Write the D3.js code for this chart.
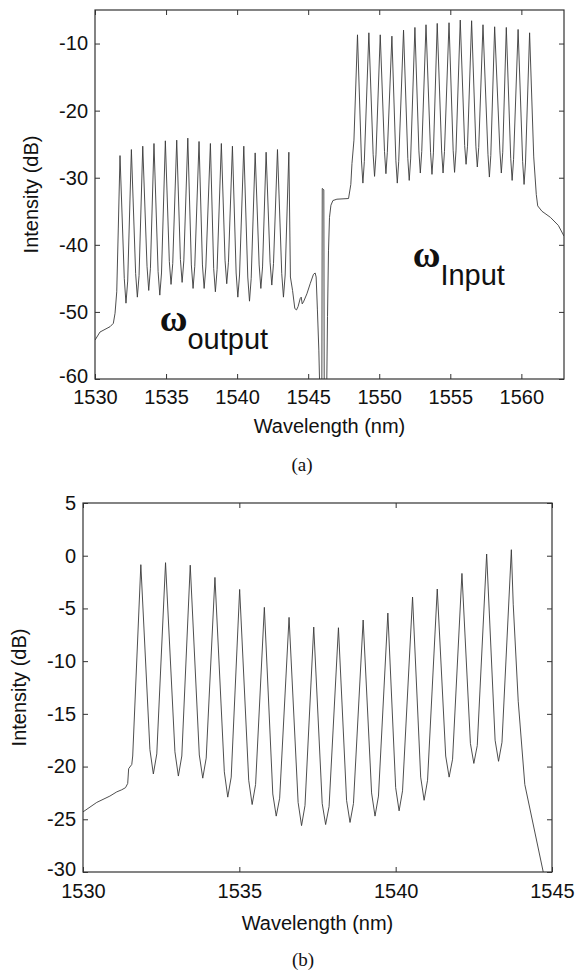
<!DOCTYPE html>
<html>
<head>
<meta charset="utf-8">
<script src="https://cdn.jsdelivr.net/npm/d3@7"></script>
<style>
  body { margin: 0; background: #fff; }
  svg text { font-family: "Liberation Sans", Arial, Helvetica, sans-serif; fill: #111; }
</style>
</head>
<body>
<div id="chart"></div>
<script>
// ---------- Panel (a): input comb (right) and converted output comb (left) ----------
// points are [wavelength nm, intensity dB]
const aLeftEdge = [[1530.00,-54.2],[1530.35,-53.0],[1531.06,-52.2],[1531.29,-51.7],[1531.41,-50.2],[1531.53,-47.0],[1531.64,-37.5]];

const aOutputComb = [
  [1531.76,-26.7],[1532.06,-45.0],[1532.18,-48.7],[1532.30,-45.4],
  [1532.56,-25.8],[1532.86,-44.3],[1532.98,-47.8],[1533.10,-44.6],
  [1533.36,-25.3],[1533.66,-43.2],[1533.78,-46.8],[1533.90,-43.5],
  [1534.15,-24.9],[1534.44,-44.0],[1534.56,-47.5],[1534.68,-44.2],
  [1534.95,-24.5],[1535.23,-42.5],[1535.35,-45.9],[1535.47,-42.8],
  [1535.75,-24.4],[1536.01,-42.2],[1536.13,-45.6],[1536.25,-42.4],
  [1536.53,-24.1],[1536.78,-43.0],[1536.90,-46.5],[1537.02,-43.2],
  [1537.32,-24.6],[1537.56,-43.0],[1537.68,-46.5],[1537.80,-43.3],
  [1538.12,-24.9],[1538.35,-43.5],[1538.47,-47.0],[1538.59,-43.7],
  [1538.89,-24.9],[1539.15,-42.3],[1539.27,-45.8],[1539.39,-42.6],
  [1539.67,-25.3],[1539.93,-44.2],[1540.05,-47.8],[1540.17,-44.5],
  [1540.47,-25.3],[1540.75,-44.8],[1540.87,-48.4],[1540.99,-45.0],
  [1541.27,-26.3],[1541.55,-43.0],[1541.67,-46.5],[1541.79,-43.3],
  [1542.04,-26.2],[1542.32,-42.6],[1542.44,-46.0],[1542.56,-42.8],
  [1542.84,-25.8],[1543.14,-44.3],[1543.26,-47.8],[1543.38,-44.5],
  [1543.64,-26.2]
];

// pump region between the two combs (spike at ~1546 nm)
const aGap = [
  [1543.75,-44.8],[1543.90,-46.8],[1544.06,-49.5],[1544.18,-49.7],[1544.29,-49.2],
  [1544.44,-48.0],[1544.51,-47.8],[1544.58,-48.8],[1544.67,-48.5],[1544.91,-47.3],
  [1545.14,-45.8],[1545.37,-44.4],[1545.49,-44.2],[1545.56,-44.8],[1545.65,-49.7],
  [1545.75,-55.7],[1545.82,-62.0],[1545.96,-62.0],[1545.99,-31.6],[1546.10,-31.8],
  [1546.13,-62.0],[1546.30,-62.0],[1546.36,-50.7],[1546.43,-40.8],[1546.50,-35.9],
  [1546.60,-34.1],[1546.74,-33.4],[1547.02,-33.2],[1547.84,-33.1],[1548.00,-31.0],
  [1548.08,-27.9],[1548.22,-24.4]
];

const aInputComb = [
  [1548.47,-8.7],[1548.75,-27.5],[1548.85,-30.8],[1548.95,-27.6],
  [1549.27,-8.4],[1549.57,-26.5],[1549.67,-29.8],[1549.77,-26.6],
  [1550.07,-8.7],[1550.37,-26.1],[1550.47,-29.4],[1550.57,-26.2],
  [1550.89,-8.9],[1551.17,-27.4],[1551.27,-30.8],[1551.37,-27.6],
  [1551.71,-8.0],[1552.01,-27.1],[1552.11,-30.4],[1552.21,-27.2],
  [1552.51,-7.6],[1552.79,-26.0],[1552.89,-29.3],[1552.99,-26.1],
  [1553.29,-7.2],[1553.61,-26.2],[1553.71,-29.5],[1553.81,-26.3],
  [1554.08,-7.0],[1554.39,-26.0],[1554.49,-29.3],[1554.59,-26.1],
  [1554.91,-6.9],[1555.20,-25.9],[1555.30,-29.2],[1555.40,-26.0],
  [1555.70,-6.5],[1556.01,-25.2],[1556.11,-28.0],[1556.21,-25.3],
  [1556.50,-6.6],[1556.80,-25.3],[1556.90,-28.4],[1557.00,-25.5],
  [1557.30,-7.2],[1557.65,-26.5],[1557.75,-29.9],[1557.85,-26.7],
  [1558.12,-7.5],[1558.49,-26.0],[1558.59,-29.3],[1558.69,-26.2],
  [1558.94,-7.6],[1559.25,-27.1],[1559.35,-30.4],[1559.45,-27.3],
  [1559.77,-7.9],[1560.09,-27.6],[1560.19,-31.0],[1560.29,-27.8],
  [1560.58,-8.4]
];

const aRightEdge = [[1560.87,-26.9],[1561.05,-32.5],[1561.15,-34.2],[1561.45,-35.0],[1562.04,-35.9],[1562.60,-37.1],[1563.00,-38.7]];

const aXTicks = [1530, 1535, 1540, 1545, 1550, 1555, 1560];
const aYTicks = [-60, -50, -40, -30, -20, -10];

// ---------- Panel (b): output comb close-up ----------
const bLeftEdge = [[1530.00,-24.3],[1530.44,-23.4],[1530.86,-22.8],[1531.08,-22.4],[1531.24,-22.2],[1531.36,-22.0],[1531.43,-21.6],[1531.46,-20.2],[1531.56,-19.8],[1531.59,-19.0]];

const bComb = [
  [1531.85,-0.85],[1532.14,-18.4],[1532.25,-20.7],[1532.36,-18.8],
  [1532.64,-0.66],[1532.94,-18.6],[1533.05,-20.9],[1533.16,-19.0],
  [1533.43,-0.90],[1533.72,-18.9],[1533.83,-21.1],[1533.94,-19.2],
  [1534.22,-2.06],[1534.52,-20.5],[1534.63,-22.9],[1534.74,-21.0],
  [1535.01,-3.20],[1535.30,-21.3],[1535.41,-23.6],[1535.52,-21.7],
  [1535.80,-4.90],[1536.07,-22.6],[1536.18,-24.7],[1536.29,-23.0],
  [1536.59,-5.85],[1536.88,-23.4],[1536.99,-25.6],[1537.10,-23.7],
  [1537.38,-6.77],[1537.65,-23.5],[1537.76,-25.5],[1537.87,-23.8],
  [1538.17,-6.83],[1538.43,-23.2],[1538.54,-25.3],[1538.65,-23.5],
  [1538.96,-6.10],[1539.23,-22.5],[1539.34,-24.7],[1539.45,-22.8],
  [1539.75,-5.44],[1540.00,-22.0],[1540.11,-24.2],[1540.22,-22.3],
  [1540.54,-3.92],[1540.80,-21.0],[1540.91,-23.2],[1541.02,-21.3],
  [1541.33,-3.16],[1541.60,-19.0],[1541.71,-21.0],[1541.82,-19.3],
  [1542.12,-1.68],[1542.39,-17.8],[1542.50,-19.7],[1542.61,-18.0],
  [1542.91,0.16],[1543.18,-17.5],[1543.29,-19.5],[1543.40,-17.7],
  [1543.70,0.57]
];

const bRightEdge = [[1543.76,-4.6],[1543.92,-13.8],[1544.13,-21.7],[1544.72,-30.0],[1544.80,-31.0]];

const bXTicks = [1530, 1535, 1540, 1545];
const bYTicks = [-30, -25, -20, -15, -10, -5, 0, 5];

// ---------- drawing ----------
const svg = d3.select("#chart")
    .append("svg")
    .attr("width", 576)
    .attr("height", 971);

function drawPanel(cfg) {
    const x = d3.scaleLinear().domain(cfg.xDomain).range([cfg.left, cfg.left + cfg.width]);
    const y = d3.scaleLinear().domain(cfg.yDomain).range([cfg.top + cfg.height, cfg.top]);
    const fmt = d => String(d);   // plain hyphen minus like the original

    // clip so that the spectrum stays inside the box
    svg.append("clipPath")
        .attr("id", cfg.id + "-clip")
        .append("rect")
        .attr("x", cfg.left)
        .attr("y", cfg.top)
        .attr("width", cfg.width)
        .attr("height", cfg.height);

    const line = d3.line()
        .x(d => x(d[0]))
        .y(d => y(d[1]));

    svg.append("path")
        .datum(cfg.data)
        .attr("clip-path", `url(#${cfg.id}-clip)`)
        .attr("fill", "none")
        .attr("stroke", "#3a3a3a")
        .attr("stroke-width", 0.9)
        .attr("stroke-linejoin", "round")
        .attr("d", line);

    // axes, ticks pointing inward on all four sides
    const axisStyle = g => {
        g.attr("font-family", "Liberation Sans, Arial, sans-serif")
            .attr("font-size", 20)
            .attr("color", "#333");
        g.select(".domain").remove();
        g.selectAll(".tick line").attr("stroke-width", 1);
        g.selectAll(".tick text").attr("fill", "#111");
    };

    svg.append("g")
        .attr("transform", `translate(0,${cfg.top + cfg.height})`)
        .call(d3.axisBottom(x).tickValues(cfg.xTicks).tickFormat(fmt)
            .tickSizeInner(-5).tickSizeOuter(0).tickPadding(cfg.xPad))
        .call(axisStyle);

    const yAxis = svg.append("g")
        .attr("transform", `translate(${cfg.left},0)`)
        .call(d3.axisLeft(y).tickValues(cfg.yTicks).tickFormat(fmt)
            .tickSizeInner(-5).tickSizeOuter(0).tickPadding(7))
        .call(axisStyle);

    // lowest y label sits just above the first x label, lift it a touch
    yAxis.selectAll(".tick text")
        .filter(d => d === cfg.yDomain[0])
        .attr("transform", "translate(0,-3)");

    svg.append("g")
        .attr("transform", `translate(0,${cfg.top})`)
        .call(d3.axisTop(x).tickValues(cfg.xTicks).tickFormat("")
            .tickSizeInner(-5).tickSizeOuter(0))
        .call(axisStyle);

    svg.append("g")
        .attr("transform", `translate(${cfg.left + cfg.width},0)`)
        .call(d3.axisRight(y).tickValues(cfg.yTicks).tickFormat("")
            .tickSizeInner(-5).tickSizeOuter(0))
        .call(axisStyle);

    // box
    svg.append("rect")
        .attr("x", cfg.left)
        .attr("y", cfg.top)
        .attr("width", cfg.width)
        .attr("height", cfg.height)
        .attr("fill", "none")
        .attr("stroke", "#333")
        .attr("stroke-width", 1.2);

    // axis titles
    svg.append("text")
        .attr("text-anchor", "middle")
        .attr("x", cfg.left + cfg.width / 2)
        .attr("y", cfg.top + cfg.height + cfg.titleGap)
        .style("font-size", "20px")
        .text("Wavelength (nm)");

    svg.append("text")
        .attr("text-anchor", "middle")
        .attr("transform", `translate(${cfg.left - 57},${cfg.top + cfg.height / 2}) rotate(-90)`)
        .style("font-size", "20px")
        .text("Intensity (dB)");

    // panel caption
    svg.append("text")
        .attr("text-anchor", "middle")
        .attr("x", cfg.captionX)
        .attr("y", cfg.captionY)
        .style("font-family", "Liberation Serif, Times New Roman, serif")
        .style("font-size", "19px")
        .text(cfg.caption);

    return { x, y };
}

const a = drawPanel({
    id: "a",
    data: aLeftEdge.concat(aOutputComb, aGap, aInputComb, aRightEdge),
    xDomain: [1530, 1563], yDomain: [-60, -5],
    xTicks: aXTicks, yTicks: aYTicks,
    left: 95, top: 10, width: 469, height: 369,
    xPad: 11, titleGap: 54,
    caption: "(a)", captionX: 302, captionY: 471
});

drawPanel({
    id: "b",
    data: bLeftEdge.concat(bComb, bRightEdge),
    xDomain: [1530, 1545], yDomain: [-30, 5],
    xTicks: bXTicks, yTicks: bYTicks,
    left: 83, top: 503, width: 469, height: 369,
    xPad: 12, titleGap: 58,
    caption: "(b)", captionX: 303, captionY: 966
});

// omega labels in panel (a)
function omegaLabel(nm, db, sub) {
    const t = svg.append("text")
        .attr("x", a.x(nm))
        .attr("y", a.y(db));
    t.append("tspan")
        .style("font-family", "Liberation Serif, Times New Roman, serif")
        .style("font-weight", "bold")
        .style("font-size", "38px")
        .text("ω");
    t.append("tspan")
        .attr("dy", 18)
        .style("font-size", "29px")
        .text(sub);
}
omegaLabel(1534.55, -52.9, "output");
omegaLabel(1552.35, -43.3, "Input");
</script>
</body>
</html>
